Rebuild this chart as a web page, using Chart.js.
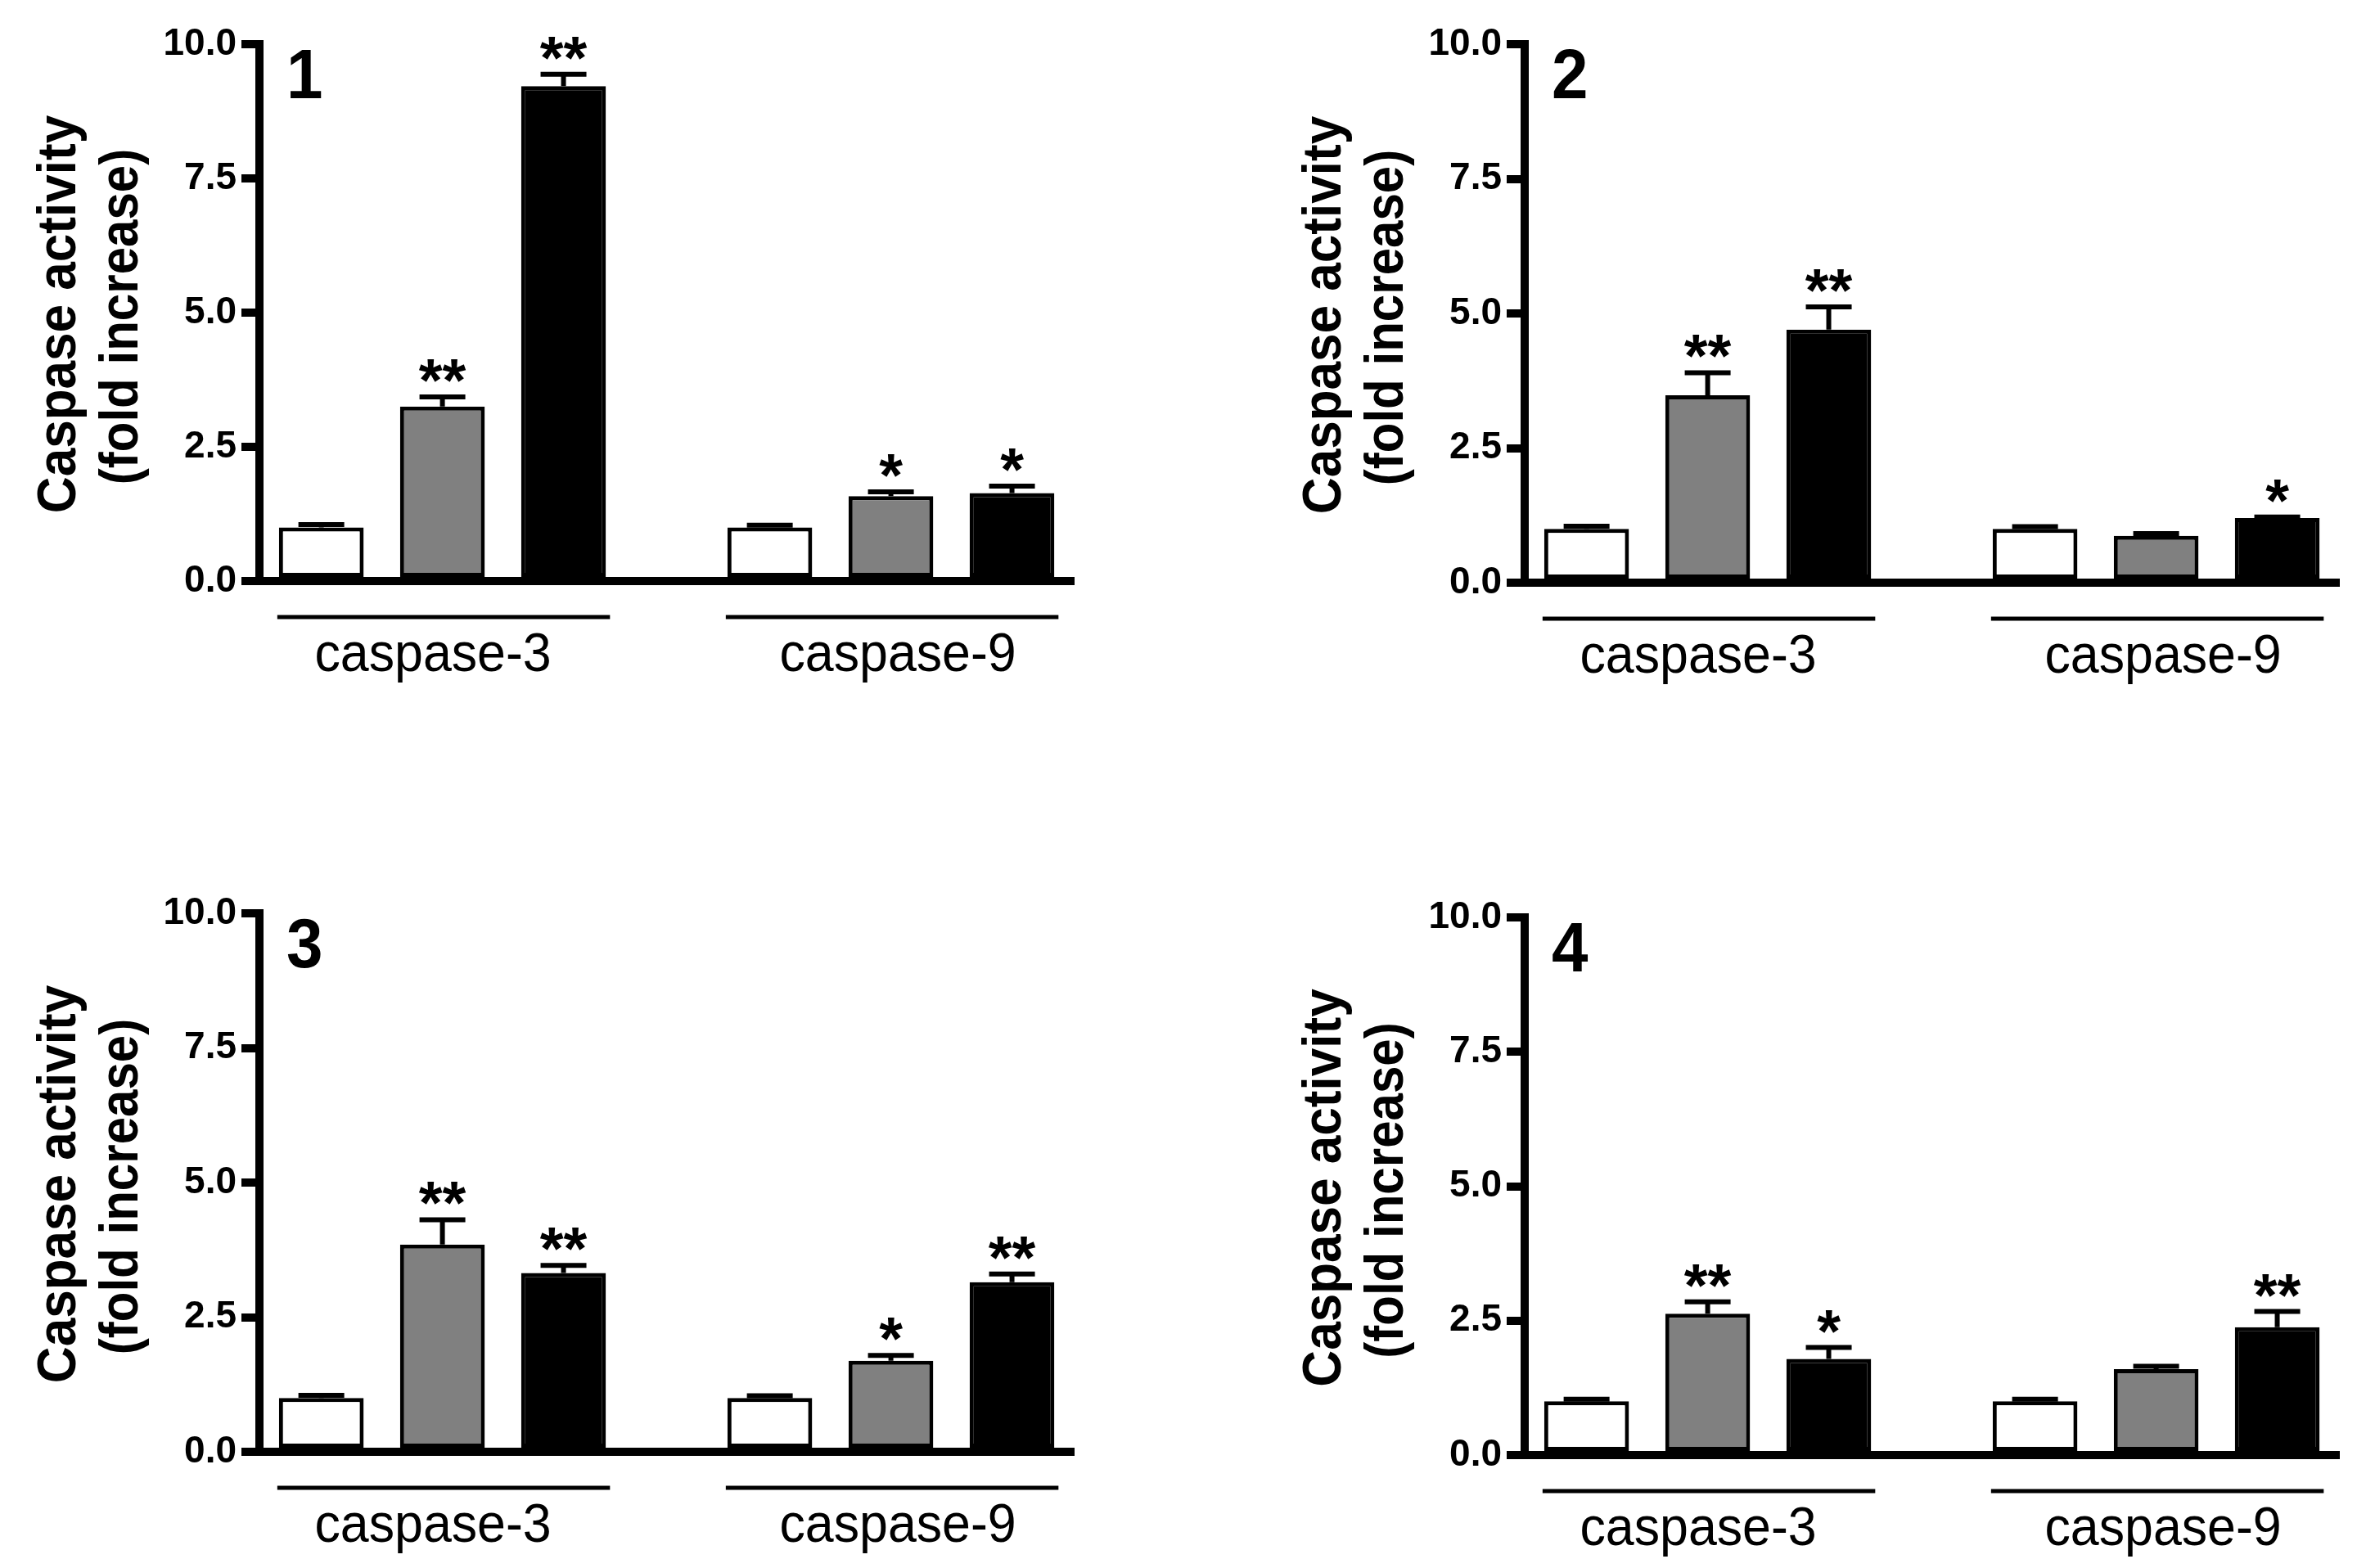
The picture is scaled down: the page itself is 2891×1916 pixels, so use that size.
<!DOCTYPE html>
<html lang="en">
<head>
<meta charset="UTF-8">
<title>Caspase activity (fold increase)</title>
<script src="https://cdn.jsdelivr.net/npm/chart.js"></script>
<style>
  html, body { margin: 0; padding: 0; background: #fff; }
  body { width: 2891px; height: 1916px; position: relative; overflow: hidden; }
  canvas { position: absolute; left: 0; top: 0; }
</style>
</head>
<body>
<canvas id="panel1" width="2891" height="1916"></canvas>
<canvas id="panel2" width="2891" height="1916"></canvas>
<canvas id="panel3" width="2891" height="1916"></canvas>
<canvas id="panel4" width="2891" height="1916"></canvas>

<script>
  // categories and shared labels
  const groups = ['caspase-3', 'caspase-9'];
  const yTicks = [0, 2.5, 5, 7.5, 10];
  const panelNames = ['1', '2', '3', '4'];
  const yTitle = ['Caspase activity', '(fold increase)'];

  // panel 1: [control, treatment A, treatment B]
  const p1Casp3 = [1.00, 3.25, 9.22];
  const p1Casp3Err = [0.05, 0.18, 0.22];
  const p1Casp9 = [1.00, 1.58, 1.64];
  const p1Casp9Err = [0.04, 0.08, 0.13];
  const p1Stars3 = ['', '**', '**'];
  const p1Stars9 = ['', '*', '*'];

  // panel 2
  const p2Casp3 = [1.00, 3.48, 4.70];
  const p2Casp3Err = [0.05, 0.42, 0.42];
  const p2Casp9 = [1.00, 0.87, 1.20];
  const p2Casp9Err = [0.04, 0.04, 0.02];
  const p2Stars3 = ['', '**', '**'];
  const p2Stars9 = ['', '', '*'];

  // panel 3
  const p3Casp3 = [1.00, 3.85, 3.32];
  const p3Casp3Err = [0.05, 0.46, 0.14];
  const p3Casp9 = [1.00, 1.69, 3.15];
  const p3Casp9Err = [0.04, 0.10, 0.15];
  const p3Stars3 = ['', '**', '**'];
  const p3Stars9 = ['', '*', '**'];

  // panel 4
  const p4Casp3 = [1.00, 2.63, 1.79];
  const p4Casp3Err = [0.04, 0.22, 0.21];
  const p4Casp9 = [1.00, 1.60, 2.38];
  const p4Casp9Err = [0.04, 0.05, 0.29];
  const p4Stars3 = ['', '**', '*'];
  const p4Stars9 = ['', '', '**'];

  const fills = ['#ffffff', '#808080', '#000000'];

  // where each panel's axes sit on the page
  const boxes = [
    { left: 317, top: 54, bottom: 710 },
    { left: 1863, top: 54, bottom: 712 },
    { left: 317, top: 1116, bottom: 1774 },
    { left: 1863, top: 1121, bottom: 1778 }
  ];
  const axisLength = 995;
  const groupPixels = 548;
  const xStart = -0.408;
  const labelShift = [-13, 7];
  const font = '"Liberation Sans", Arial, sans-serif';

  function drawText(ctx, text, x, y, fontSpec, sx, align, rotate) {
    ctx.save();
    ctx.translate(x, y);
    if (rotate) ctx.rotate(-Math.PI / 2);
    ctx.scale(sx, 1);
    ctx.font = fontSpec;
    ctx.textAlign = align;
    ctx.textBaseline = 'alphabetic';
    ctx.fillText(text, 0, 0);
    ctx.restore();
  }

  const extras = {
    id: 'extras',
    afterDatasetsDraw(chart) {
      const ctx = chart.ctx;
      const area = chart.chartArea;
      const y = chart.scales.y;
      const info = chart.options.plugins.extras;
      ctx.save();
      ctx.fillStyle = '#000';
      ctx.strokeStyle = '#000';

      // error bars (upper only) and significance marks
      chart.data.datasets.forEach((ds, i) => {
        const meta = chart.getDatasetMeta(i);
        meta.data.forEach((bar, j) => {
          const top = y.getPixelForValue(ds.data[j].y + ds.errors[j]);
          ctx.lineWidth = 6;
          ctx.lineCap = 'butt';
          ctx.beginPath();
          ctx.moveTo(bar.x, bar.y);
          ctx.lineTo(bar.x, top);
          ctx.moveTo(bar.x - 28, top);
          ctx.lineTo(bar.x + 28, top);
          ctx.stroke();
          if (ds.stars[j]) {
            drawText(ctx, ds.stars[j], bar.x, top + 5, 'bold 74px ' + font, 1, 'center', false);
          }
        });
      });

      // group underlines and labels
      const first = chart.getDatasetMeta(0).data;
      const last = chart.getDatasetMeta(chart.data.datasets.length - 1).data;
      groups.forEach((g, k) => {
        const x0 = first[k].x - first[k].width / 2 - 2;
        const x1 = last[k].x + last[k].width / 2 + 5;
        ctx.lineWidth = 5;
        ctx.beginPath();
        ctx.moveTo(x0, area.bottom + 44);
        ctx.lineTo(x1, area.bottom + 44);
        ctx.stroke();
        drawText(ctx, g, (x0 + x1) / 2 + labelShift[k], area.bottom + 110, '66px ' + font, 0.95, 'center', false);
      });

      // panel number
      drawText(ctx, info.name, area.left + 33, area.top + 66, 'bold 86px ' + font, 0.93, 'left', false);

      // y axis title, two rotated lines
      const mid = (area.top + area.bottom) / 2;
      drawText(ctx, yTitle[0], area.left - 225, mid + 2, 'bold 66px ' + font, 0.94, 'center', true);
      drawText(ctx, yTitle[1], area.left - 149, mid + 5, 'bold 66px ' + font, 0.91, 'center', true);
      ctx.restore();
    }
  };

  function makePanel(id, idx, casp3, casp3Err, casp9, casp9Err, stars3, stars9) {
    const box = boxes[idx];
    const datasets = fills.map((c, k) => ({
      data: [{ x: 0, y: casp3[k] }, { x: 1, y: casp9[k] }],
      errors: [casp3Err[k], casp9Err[k]],
      stars: [stars3[k], stars9[k]],
      backgroundColor: c,
      borderColor: '#000',
      borderWidth: 5,
      borderSkipped: false,
      categoryPercentage: 0.81,
      barPercentage: 0.70
    }));

    return new Chart(document.getElementById(id), {
      type: 'bar',
      data: { datasets: datasets },
      options: {
        responsive: false,
        animation: false,
        devicePixelRatio: 1,
        layout: {
          padding: {
            left: box.left - 200,
            top: box.top,
            right: 2891 - (box.left + axisLength),
            bottom: 1916 - box.bottom
          }
        },
        plugins: {
          legend: { display: false },
          tooltip: { enabled: false },
          extras: { name: panelNames[idx] }
        },
        scales: {
          x: {
            type: 'linear',
            min: xStart,
            max: xStart + axisLength / groupPixels,
            offset: false,
            ticks: { display: false },
            grid: { display: false, drawTicks: false },
            border: { display: true, width: 10, color: '#000' },
            afterBuildTicks: s => { s.ticks = groups.map((g, i) => ({ value: i })); },
            afterFit: s => { s.height = 0; }
          },
          y: {
            min: 0,
            max: 10,
            afterBuildTicks: s => { s.ticks = yTicks.map(v => ({ value: v })); },
            ticks: {
              callback: v => v.toFixed(1),
              color: '#000',
              padding: 6,
              font: { family: font, weight: 'bold', size: 46 }
            },
            grid: { drawOnChartArea: false, drawTicks: true, tickLength: 22, lineWidth: 10, color: '#000' },
            border: { display: true, width: 10, color: '#000' },
            afterFit: s => { s.width = 200; }
          }
        }
      },
      plugins: [extras]
    });
  }

  makePanel('panel1', 0, p1Casp3, p1Casp3Err, p1Casp9, p1Casp9Err, p1Stars3, p1Stars9);
  makePanel('panel2', 1, p2Casp3, p2Casp3Err, p2Casp9, p2Casp9Err, p2Stars3, p2Stars9);
  makePanel('panel3', 2, p3Casp3, p3Casp3Err, p3Casp9, p3Casp9Err, p3Stars3, p3Stars9);
  makePanel('panel4', 3, p4Casp3, p4Casp3Err, p4Casp9, p4Casp9Err, p4Stars3, p4Stars9);
</script>
</body>
</html>
